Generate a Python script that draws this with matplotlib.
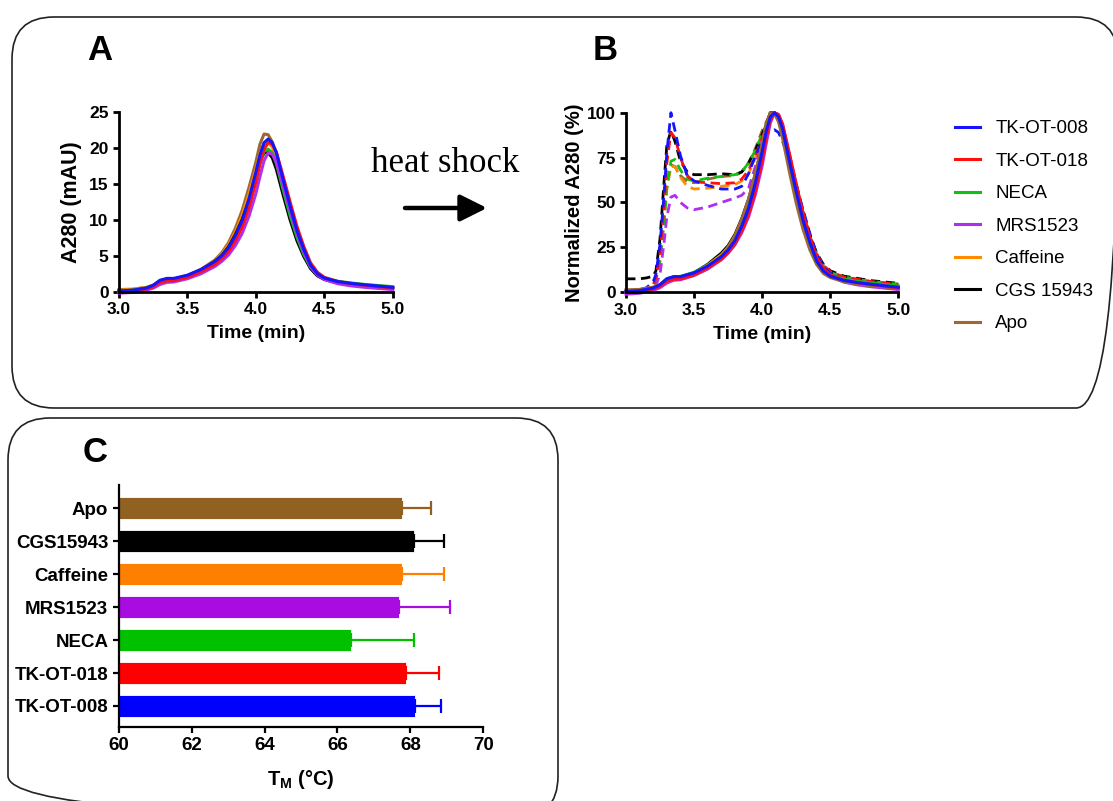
import matplotlib
matplotlib.use("Agg")
import numpy as np
import matplotlib.pyplot as plt
from matplotlib.patches import FancyBboxPatch
from matplotlib.lines import Line2D
from matplotlib.ticker import FormatStrFormatter, MultipleLocator

plt.rcParams['font.family'] = ['Liberation Sans', 'DejaVu Sans']
plt.rcParams['mathtext.fontset'] = 'custom'
plt.rcParams['mathtext.rm'] = 'Liberation Sans:bold'
plt.rcParams['mathtext.bf'] = 'Liberation Sans:bold'

# ---------------- data ----------------
samples = ["TK-OT-008", "TK-OT-018", "NECA", "MRS1523", "Caffeine", "CGS 15943", "Apo"]
line_colors = ["#1414ff", "#ff1010", "#12c012", "#b02ef0", "#ff8c00", "#000000", "#9c6a2e"]

# SEC traces before heat shock (A280, mAU)
time_a = [3.0, 3.1, 3.2, 3.25, 3.3, 3.35, 3.4, 3.5, 3.6, 3.7, 3.75, 3.8, 3.85, 3.9, 3.95,
          4.0, 4.03, 4.06, 4.09, 4.12, 4.15, 4.2, 4.25, 4.3, 4.35, 4.4, 4.45, 4.5, 4.6,
          4.7, 4.8, 5.0]
a280_tk008 = [0.1, 0.2, 0.5, 0.9, 1.6, 1.85, 1.85, 2.3, 3.1, 4.2, 5.0, 6.1, 7.8, 9.9, 12.9,
              16.6, 19.0, 20.7, 21.2, 20.7, 19.3, 15.5, 11.9, 8.5, 5.9, 3.7, 2.5, 1.9, 1.4,
              1.15, 0.95, 0.6]
a280_tk018 = [0.0, 0.1, 0.4, 0.7, 1.3, 1.5, 1.55, 2.0, 2.8, 3.8, 4.6, 5.6, 7.1, 9.0, 11.7,
              15.2, 17.8, 19.8, 20.7, 20.5, 19.4, 16.0, 12.5, 9.1, 6.3, 4.0, 2.7, 2.0, 1.4,
              1.1, 0.9, 0.5]
a280_neca = [0.1, 0.2, 0.5, 0.8, 1.5, 1.7, 1.75, 2.2, 3.0, 4.1, 4.9, 6.0, 7.6, 9.6, 12.2,
             15.6, 17.9, 19.5, 19.8, 19.3, 17.8, 14.1, 10.6, 7.6, 5.2, 3.4, 2.4, 1.9, 1.45,
             1.2, 1.0, 0.7]
a280_mrs1523 = [-0.2, -0.1, 0.2, 0.5, 1.0, 1.3, 1.35, 1.8, 2.5, 3.5, 4.2, 5.1, 6.4, 8.1, 10.5,
                13.6, 16.0, 18.2, 19.3, 19.1, 18.0, 14.7, 11.2, 8.1, 5.5, 3.5, 2.3, 1.7, 1.1,
                0.8, 0.6, 0.3]
a280_caffeine = [0.2, 0.3, 0.6, 0.9, 1.5, 1.7, 1.75, 2.2, 3.1, 4.3, 5.2, 6.5, 8.3, 10.6, 13.6,
                 17.0, 19.2, 20.5, 20.7, 20.1, 18.4, 14.6, 11.0, 7.8, 5.3, 3.4, 2.3, 1.8, 1.3,
                 1.05, 0.85, 0.55]
a280_cgs = [0.1, 0.2, 0.5, 0.8, 1.4, 1.6, 1.65, 2.1, 3.0, 4.2, 5.0, 6.2, 7.9, 10.0, 12.7,
            15.8, 18.0, 19.3, 19.3, 18.6, 17.0, 13.4, 10.0, 7.1, 4.9, 3.2, 2.2, 1.7, 1.2,
            1.0, 0.8, 0.5]
a280_apo = [0.3, 0.35, 0.6, 0.9, 1.5, 1.7, 1.75, 2.2, 3.1, 4.4, 5.4, 6.8, 8.8, 11.3, 14.5,
            18.0, 20.5, 21.9, 21.8, 20.8, 18.8, 14.7, 10.9, 7.7, 5.2, 3.4, 2.3, 1.8, 1.3,
            1.0, 0.8, 0.5]

# SEC traces after heat shock (normalized A280, %)
time_b = [3.0, 3.1, 3.15, 3.2, 3.22, 3.25, 3.28, 3.3, 3.33, 3.36, 3.4, 3.45, 3.5, 3.6, 3.7,
          3.8, 3.85, 3.9, 3.95, 4.0, 4.05, 4.09, 4.12, 4.15, 4.2, 4.25, 4.3, 4.35, 4.4,
          4.45, 4.5, 4.6, 4.8, 5.0]
hs_tk008 = [0.5, 1.5, 2.5, 6, 10, 27, 55, 78, 100, 90, 76, 65, 62, 59.5, 57.5,
            57.5, 59, 66, 76, 84, 89.5, 90.5, 89, 84, 74, 60, 46, 33, 21,
            14, 10.5, 7, 4.5, 3.2]
hs_tk018 = [0.3, 0.8, 1.5, 4, 8, 22, 48, 72, 89, 86, 75, 65, 61.5, 61, 60.5,
            61, 63, 68, 76, 86, 96, 100, 98, 92, 77, 60, 45, 32, 21.5,
            15, 11.5, 8.5, 6, 4.5]
hs_neca = [0.3, 0.8, 1.5, 4, 7, 18, 40, 58, 73, 74, 68, 63, 62, 63.5, 64.5,
           65.5, 67, 72, 79, 88, 97, 100, 97, 91, 76, 59, 44, 31, 21,
           14.5, 11, 8.5, 6, 4.5]
hs_mrs1523 = [0.2, 0.5, 1, 2.5, 4, 10, 28, 42, 53, 54, 50, 47, 46, 47.5, 50,
              52.5, 54, 58, 70, 84, 96, 100, 98, 91, 75, 58, 43, 30, 20,
              13.5, 10, 7.5, 5, 3.5]
hs_caffeine = [0.3, 0.8, 1.5, 4, 7, 18, 40, 58, 70, 70, 64, 59, 57.5, 58, 59,
               60, 62, 66, 75, 86, 96, 100, 97, 91, 76, 59, 44, 31, 21,
               14.5, 11, 8, 5.5, 4]
hs_cgs = [7.5, 7.5, 8, 9, 12, 30, 62, 82, 90, 84, 73, 67, 65.5, 65.5, 66,
          65.5, 67, 72, 79, 88, 97, 100, 97, 91, 76, 60, 45, 32, 22,
          15.5, 12, 9, 6.5, 5]
hs_apo = [0.3, 0.8, 1.5, 4, 7, 18, 42, 60, 71, 70, 65, 61.5, 61, 63, 64.5,
          65, 67, 72, 80, 90, 98, 100, 96, 89, 74, 58, 43, 30, 20.5,
          14, 10.5, 8, 5.5, 4]

# Thermal shift melting temperatures
tm_labels = ["TK-OT-008", "TK-OT-018", "NECA", "MRS1523", "Caffeine", "CGS15943", "Apo"]
tm_mean = [68.12, 67.87, 66.37, 67.69, 67.76, 68.10, 67.76]
tm_err = [0.71, 0.92, 1.72, 1.39, 1.17, 0.83, 0.81]
bar_colors = ["#0000ff", "#ff0000", "#00c000", "#a90ce0", "#ff8000", "#000000", "#916122"]

raw_traces = [a280_tk008, a280_tk018, a280_neca, a280_mrs1523, a280_caffeine, a280_cgs, a280_apo]
hs_traces = [hs_tk008, hs_tk018, hs_neca, hs_mrs1523, hs_caffeine, hs_cgs, hs_apo]

# ---------------- figure ----------------
W, H = 1113, 801
fig = plt.figure(figsize=(W / 100, H / 100), dpi=100)

# background layer in pixel coordinates: rounded frames, arrow, annotation
bg = fig.add_axes([0, 0, 1, 1], zorder=-5)
bg.set_xlim(0, W)
bg.set_ylim(H, 0)
bg.axis("off")
for (x0, y0, w, h) in [(12, 17, 1106, 391), (8, 418, 550, 400)]:
    bg.add_patch(FancyBboxPatch((x0, y0), w, h, boxstyle="round,pad=0,rounding_size=42",
                                fill=False, ec="#222222", lw=1.2))
bg.text(445, 163, "heat shock", family=["Liberation Serif"], fontsize=25,
        ha="center", va="center")
bg.annotate("", xy=(487, 208), xytext=(405, 208),
            arrowprops=dict(arrowstyle="-|>,head_length=0.9,head_width=0.45",
                            lw=3.2, color="black", mutation_scale=18, shrinkA=0, shrinkB=0))
for letter, (lx, ly) in zip("ABC", [(100, 50), (605, 50), (95, 452)]):
    bg.text(lx, ly, letter, fontsize=25, fontweight="bold", ha="center", va="center")


def style_axes(ax, lw=2.0, labelsize=12.5):
    ax.patch.set_visible(False)
    for side in ("top", "right"):
        ax.spines[side].set_visible(False)
    for side in ("left", "bottom"):
        ax.spines[side].set_linewidth(lw)
    ax.tick_params(direction="out", length=4.5, width=lw, labelsize=labelsize, pad=3)
    for lab in ax.get_xticklabels() + ax.get_yticklabels():
        lab.set_fontweight("bold")


def fx(px):
    return px / W


def fy(py):
    return 1 - py / H


# ---- A: before heat shock ----
axA = fig.add_axes([fx(119), fy(291.7), (392.7 - 119) / W, 180 / H])
order = [6, 4, 5, 2, 3, 1, 0]
for i in order:
    axA.plot(time_a, raw_traces[i], color=line_colors[i], lw=2.2, clip_on=False)
axA.set_xlim(3.0, 5.0)
axA.set_ylim(0, 25)
axA.xaxis.set_major_locator(MultipleLocator(0.5))
axA.yaxis.set_major_locator(MultipleLocator(5))
axA.xaxis.set_major_formatter(FormatStrFormatter("%.1f"))
axA.set_xlabel("Time (min)", fontsize=14, fontweight="bold", labelpad=6)
axA.set_ylabel("A280 (mAU)", fontsize=15.5, fontweight="bold", labelpad=5)
style_axes(axA)

# ---- B: after heat shock (normalized) ----
axB = fig.add_axes([fx(626), fy(292.3), (898.3 - 626) / W, 179.6 / H])
for i in order:
    axB.plot(time_b, hs_traces[i], color=line_colors[i], lw=2.0, ls=(0, (3.4, 2.0)),
             clip_on=False)
order_b = [5, 2, 3, 4, 6, 1, 0]
for i in order_b:
    trace = np.asarray(raw_traces[i], dtype=float)
    axB.plot(time_a, trace / trace.max() * 100, color=line_colors[i], lw=2.2, clip_on=False)
axB.set_xlim(3.0, 5.0)
axB.set_ylim(0, 100)
axB.xaxis.set_major_locator(MultipleLocator(0.5))
axB.yaxis.set_major_locator(MultipleLocator(25))
axB.xaxis.set_major_formatter(FormatStrFormatter("%.1f"))
axB.set_xlabel("Time (min)", fontsize=14, fontweight="bold", labelpad=6)
axB.set_ylabel("Normalized A280 (%)", fontsize=14.5, fontweight="bold", labelpad=2)
style_axes(axB)

handles = [Line2D([], [], color=c, lw=2.2) for c in line_colors]
axB.legend(handles, samples, loc="upper left", bbox_to_anchor=(fx(955), fy(120)),
           bbox_transform=fig.transFigure, frameon=False, fontsize=13.5,
           handlelength=1.35, handletextpad=0.8, labelspacing=0.82,
           borderpad=0, borderaxespad=0)

# ---- C: melting temperatures ----
axC = fig.add_axes([fx(118.7), fy(726.7), (483.3 - 118.7) / W, 241.7 / H])
pos = np.arange(len(tm_labels))
axC.barh(pos, tm_mean, height=0.67, color=bar_colors, edgecolor="white", linewidth=0.6)
for p, m, e, c in zip(pos, tm_mean, tm_err, bar_colors):
    axC.errorbar([m], [p], xerr=[[0], [e]], fmt="none", ecolor=c, elinewidth=1.6,
                 capsize=5, capthick=1.6)
axC.set_xlim(60, 70)
axC.set_ylim(-0.63, 6.71)
axC.set_yticks(pos)
axC.set_yticklabels(tm_labels)
axC.xaxis.set_major_locator(MultipleLocator(2))
axC.set_xlabel(r"$\mathbf{T_M}$ (°C)", fontsize=14.5, fontweight="bold", labelpad=10)
style_axes(axC, lw=1.6, labelsize=13.5)

fig.savefig("out.png", dpi=100)
